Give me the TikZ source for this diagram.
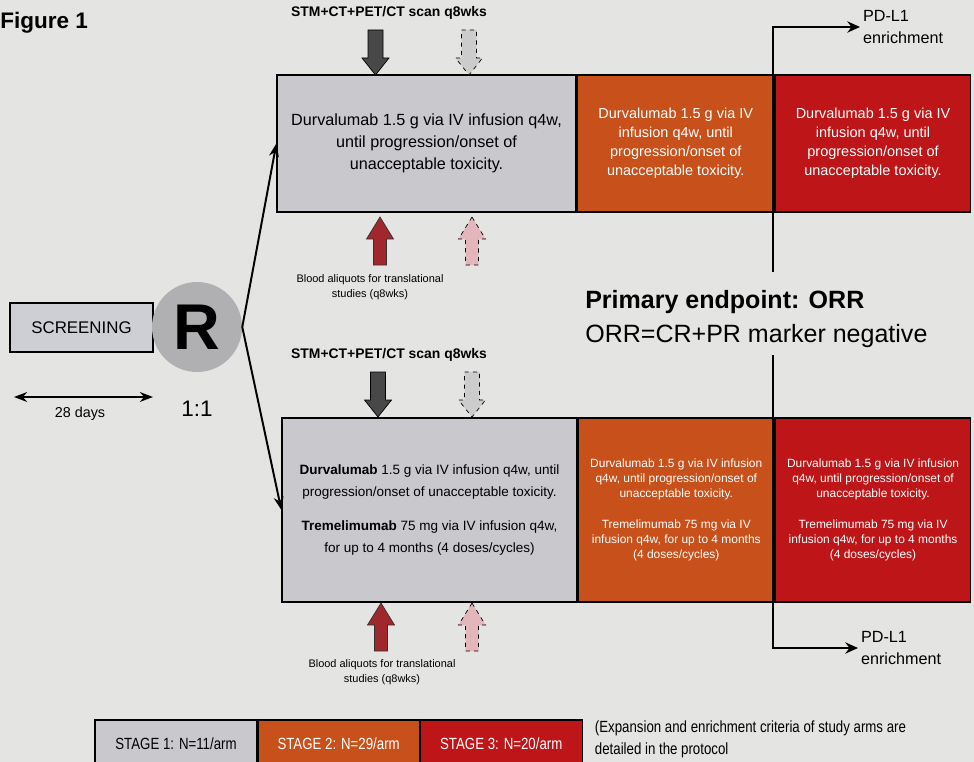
\documentclass[tikz,border=0pt]{standalone}
\usepackage{fontspec}
\setmainfont{Liberation Sans}
\newfontfamily\narrowfont[FakeStretch=0.82]{Liberation Sans}
\usetikzlibrary{arrows.meta, positioning}

\definecolor{paper}{RGB}{228,228,226}
\definecolor{armgrey}{RGB}{200,200,205}
\definecolor{scrgrey}{RGB}{206,206,213}
\definecolor{rgrey}{RGB}{176,176,179}
\definecolor{stageorange}{RGB}{200,80,26}
\definecolor{stagered}{RGB}{190,22,24}
\definecolor{scandark}{RGB}{72,72,72}
\definecolor{scanlight}{RGB}{204,204,204}
\definecolor{bloodred}{RGB}{160,40,45}
\definecolor{bloodpink}{RGB}{226,182,186}

\newcommand{\pxu}{0.025cm}
\newcommand{\fs}[2]{\fontsize{#1}{#2}\selectfont}

\tikzset{
  pics/scandown/.style={code={
    \draw[pic actions] (-7.5,0) -- (7.5,0) -- (7.5,28) -- (13.5,28)
      -- (0,45) -- (-13.5,28) -- (-7.5,28) -- cycle;}},
  pics/bloodup/.style={code={
    \draw[pic actions] (0,0) -- (13.5,22) -- (6.5,22) -- (6.5,48)
      -- (-6.5,48) -- (-6.5,22) -- (-13.5,22) -- cycle;}},
}

\begin{document}
\begin{tikzpicture}[x=0.025cm, y=-0.025cm, >=Stealth,
  armbox/.style={draw=black, line width=0.9pt, inner sep=0pt, align=center},
  whitetxt/.style={text=white},
  stagebox/.style={draw=black, line width=0.8pt, minimum height=48*\pxu,
    font=\narrowfont\fs{11.5}{13}},
  link/.style={->, line width=1.4pt},
  enrich/.style={->, line width=2pt, -{Stealth[length=9pt,width=8pt]}},
  scanlbl/.style={font=\bfseries\fs{9.9}{12}, anchor=base},
  bloodlbl/.style={align=center, font=\fs{7.8}{10.5}},
  pdlbl/.style={anchor=west, align=left, inner sep=2pt, font=\fs{11.5}{15.5}}]

  \useasboundingbox (0,0) rectangle (974,762);
  \clip (0,0) rectangle (974,762);
  \fill[paper] (0,0) rectangle (974,762);

  \node[font=\bfseries\fs{16}{16}, anchor=base west, inner sep=0pt]
    (figlabel) at (0,29) {Figure 1};

  % Screening and randomisation
  \node[draw=black, line width=0.8pt, fill=scrgrey, minimum width=143*\pxu,
    minimum height=49*\pxu, font=\fs{12}{14}] (screen) at (81.5,327.5)
    {SCREENING};
  \node[circle, fill=rgrey, minimum size=90*\pxu, inner sep=0pt,
    font=\bfseries\fs{46}{46}] (rand) at (197,327) {R};
  \node[font=\fs{16}{16}] (ratio) at (197,409) {1:1};
  \coordinate (dayL) at (14,397);
  \coordinate (dayR) at (153,397);
  \draw[<->, line width=1.4pt] (dayL) -- (dayR);
  \node[font=\fs{10.2}{12}] (days) at (80,414) {28 days};

  % Arm A: durvalumab
  \node[armbox, fill=armgrey, minimum width=299*\pxu, minimum height=137*\pxu,
    font=\fs{11.5}{15.5}] (durvaA) at (426.5,143.5)
    {Durvalumab 1.5 g via IV infusion q4w,\\ until progression/onset of\\
     unacceptable toxicity.};
  \node[armbox, whitetxt, fill=stageorange, minimum width=197*\pxu,
    minimum height=137*\pxu, font=\fs{10.3}{13.5}, right=0pt of durvaA]
    (durvaB) {Durvalumab 1.5 g via IV\\ infusion q4w, until\\
     progression/onset of\\ unacceptable toxicity.};
  \node[armbox, whitetxt, fill=stagered, minimum width=195*\pxu,
    minimum height=137*\pxu, font=\fs{10.3}{13.5}, right=0pt of durvaB]
    (durvaC) {Durvalumab 1.5 g via IV\\ infusion q4w, until\\
     progression/onset of\\ unacceptable toxicity.};

  % Arm B: durvalumab + tremelimumab
  \node[armbox, fill=armgrey, minimum width=295*\pxu, minimum height=184*\pxu,
    font=\fs{9.6}{15.4}] (comboA) at (429.5,510)
    {\textbf{Durvalumab} 1.5 g via IV infusion q4w, until\\
     progression/onset of unacceptable toxicity.\\[9pt]
     \textbf{Tremelimumab} 75 mg via IV infusion q4w,\\
     for up to 4 months (4 doses/cycles)};
  \node[armbox, whitetxt, fill=stageorange, minimum width=196*\pxu,
    minimum height=184*\pxu, font=\fs{8.5}{10.7}, right=0pt of comboA]
    (comboB) {Durvalumab 1.5 g via IV infusion\\ q4w, until progression/onset of\\
     unacceptable toxicity.\\[11pt] Tremelimumab 75 mg via IV\\
     infusion q4w, for up to 4 months\\ (4 doses/cycles)};
  \node[armbox, whitetxt, fill=stagered, minimum width=195*\pxu,
    minimum height=184*\pxu, font=\fs{8.5}{10.7}, right=0pt of comboB]
    (comboC) {Durvalumab 1.5 g via IV infusion\\ q4w, until progression/onset of\\
     unacceptable toxicity.\\[11pt] Tremelimumab 75 mg via IV\\
     infusion q4w, for up to 4 months\\ (4 doses/cycles)};

  \draw[link] (rand.east) -- (durvaA.west);
  \draw[link] (rand.east) -- (comboA.west);

  % Scans and blood sampling
  \node[scanlbl] (scanA) at (389,17) {STM+CT+PET/CT scan q8wks};
  \pic[fill=scandark, draw=black, line width=0.5pt] at (375.5,30) {scandown};
  \pic[fill=scanlight, draw=black, dashed, line width=0.5pt] at (469,30) {scandown};
  \pic[fill=bloodred, draw=black!80, line width=0.5pt] at (380,217) {bloodup};
  \pic[fill=bloodpink, draw=black, dashed, line width=0.5pt] at (472,217) {bloodup};
  \node[bloodlbl] (bloodA) at (370,287)
    {Blood aliquots for translational\\ studies (q8wks)};

  \node[scanlbl] (scanB) at (389,358) {STM+CT+PET/CT scan q8wks};
  \pic[fill=scandark, draw=black, line width=0.5pt] at (378,372) {scandown};
  \pic[fill=scanlight, draw=black, dashed, line width=0.5pt] at (472,372) {scandown};
  \pic[fill=bloodred, draw=black!80, line width=0.5pt] at (381,603) {bloodup};
  \pic[fill=bloodpink, draw=black, dashed, line width=0.5pt] at (472,603) {bloodup};
  \node[bloodlbl] (bloodB) at (382,672)
    {Blood aliquots for translational\\ studies (q8wks)};

  % Endpoint and enrichment
  \node[anchor=base west, inner sep=0pt, font=\bfseries\fs{17.8}{20}]
    (endptTitle) at (585,308) {Primary endpoint: ORR};
  \node[anchor=base west, inner sep=0pt, font=\fs{17.8}{20}]
    (endptDef) at (585,342) {ORR=CR+PR marker negative};
  \node[pdlbl] (pdTop) at (860,27) {PD-L1\\ enrichment};
  \node[pdlbl] (pdBot) at (858,648) {PD-L1\\ enrichment};
  \coordinate (gapTop) at (773,272);
  \coordinate (gapBot) at (773,355);
  \draw[enrich] (gapTop) |- (pdTop.west);
  \draw[enrich] (gapBot) |- (pdBot.west);

  % Stage legend
  \node[stagebox, fill=armgrey, minimum width=162*\pxu] (stageA) at (176,744)
    {STAGE 1: N=11/arm};
  \node[stagebox, fill=stageorange, text=white, minimum width=161*\pxu,
    right=0pt of stageA] (stageB) {STAGE 2: N=29/arm};
  \node[stagebox, fill=stagered, text=white, minimum width=162*\pxu,
    right=0pt of stageB] (stageC) {STAGE 3: N=20/arm};
  \node[anchor=west, align=left, font=\narrowfont\fs{11.5}{15.5}]
    (legendNote) at (590,739)
    {(Expansion and enrichment criteria of study arms are\\
     detailed in the protocol};
\end{tikzpicture}
\end{document}
